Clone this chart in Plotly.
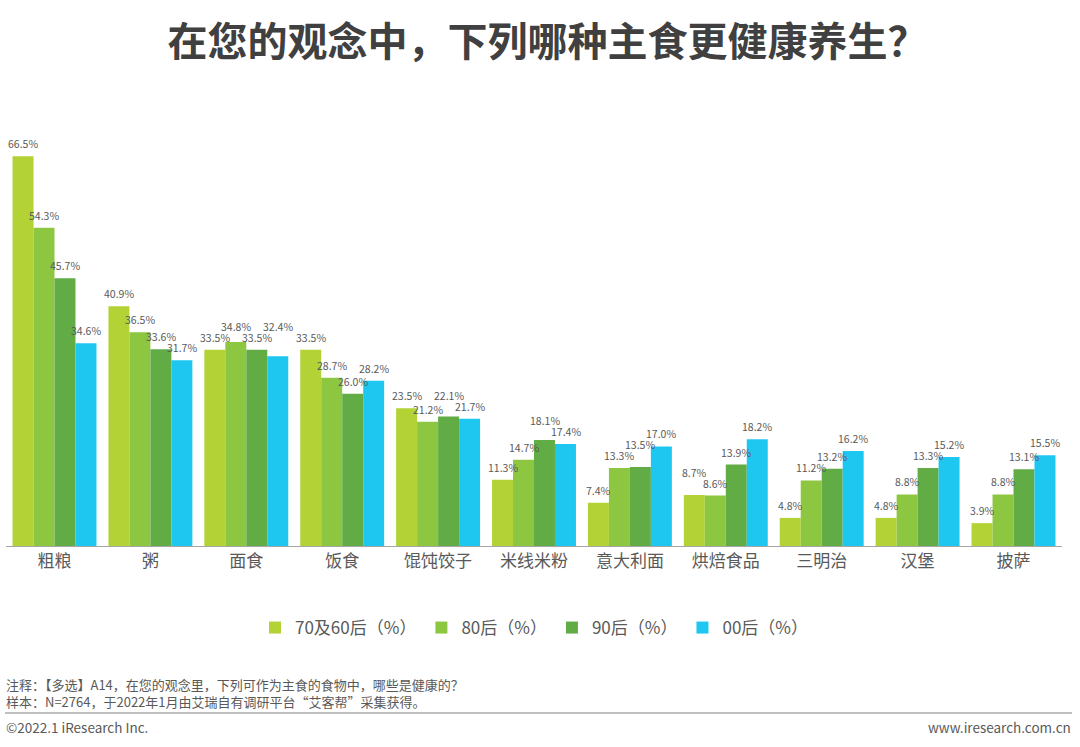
import plotly.graph_objects as go

categories = ["粗粮", "粥", "面食", "饭食", "馄饨饺子", "米线米粉", "意大利面", "烘焙食品", "三明治", "汉堡", "披萨"]
gen_70_60 = [66.5, 40.9, 33.5, 33.5, 23.5, 11.3, 7.4, 8.7, 4.8, 4.8, 3.9]
gen_80 = [54.3, 36.5, 34.8, 28.7, 21.2, 14.7, 13.3, 8.6, 11.2, 8.8, 8.8]
gen_90 = [45.7, 33.6, 33.5, 26.0, 22.1, 18.1, 13.5, 13.9, 13.2, 13.3, 13.1]
gen_00 = [34.6, 31.7, 32.4, 28.2, 21.7, 17.4, 17.0, 18.2, 16.2, 15.2, 15.5]

series = [
    ("70及60后（%）", gen_70_60, "#B2D235"),
    ("80后（%）", gen_80, "#8DC641"),
    ("90后（%）", gen_90, "#62AC46"),
    ("00后（%）", gen_00, "#1EC7F0"),
]

FONT = "Noto Sans CJK SC"
GREY = "#595959"
PLOT_W = 1056
PLOT_H = 416
BASE_Y = 546
Y_MAX = 71
BARGAP = 0.125

PPU = PLOT_H / Y_MAX  # pixels per percent
BAR_PX = PLOT_W / len(categories) * (1 - BARGAP) / len(series)
LABEL_PAD = 3
LABEL_STEP = 11  # min vertical distance between neighbouring labels


def py(ypix):
    # pixel row -> paper y
    return (BASE_Y - ypix) / PLOT_H


def px(xpix):
    # pixel column -> paper x
    return (xpix - 6) / PLOT_W


def label_heights(vals):
    # label bottoms in px above the baseline, staggered so neighbours don't collide
    pos = [v * PPU + LABEL_PAD for v in vals]
    for i in range(1, len(pos)):
        if abs(pos[i] - pos[i - 1]) >= LABEL_STEP:
            continue
        if pos[i] >= pos[i - 1]:
            pos[i] = pos[i - 1] + LABEL_STEP
        else:
            lifted = pos[i] + LABEL_STEP
            if i == 1 or abs(lifted - pos[i - 2]) >= LABEL_STEP:
                pos[i - 1] = lifted
            else:
                pos[i] = pos[i - 1] + LABEL_STEP
    return pos


fig = go.Figure()
for name, values, color in series:
    fig.add_trace(go.Bar(
        x=categories, y=values, name=name,
        marker={"color": color, "line": {"width": 0}},
        cliponaxis=False, hoverinfo="skip",
    ))

for ci, cat in enumerate(categories):
    vals = [s[1][ci] for s in series]
    for si, (v, pos) in enumerate(zip(vals, label_heights(vals))):
        fig.add_annotation(
            x=cat, y=v, xref="x", yref="y", text=f"{v:.1f}%", showarrow=False,
            xshift=(si - (len(series) - 1) / 2) * BAR_PX, yshift=pos - v * PPU,
            yanchor="bottom", xanchor="center",
            font={"size": 10.5, "color": GREY, "family": FONT},
        )

fig.update_layout(
    width=1080, height=747,
    paper_bgcolor="white", plot_bgcolor="white",
    barmode="group", bargap=BARGAP, bargroupgap=0,
    margin={"l": 6, "r": 18, "t": 130, "b": 201},
    font={"family": FONT, "color": GREY},
    title={"text": "<b>在您的观念中，下列哪种主食更健康养生？</b>", "x": 0.507, "xanchor": "center",
           "y": 0.944, "yanchor": "middle", "font": {"size": 40, "color": "#404040", "family": FONT}},
    xaxis={"showline": True, "linecolor": "#A6A6A6", "linewidth": 1, "ticks": "",
           "tickfont": {"size": 17, "color": GREY}, "showgrid": False},
    yaxis={"range": [0, Y_MAX], "visible": False, "showgrid": False},
    legend={"orientation": "h", "x": 0.5, "xanchor": "center", "y": py(628), "yanchor": "middle",
            "font": {"size": 17, "color": GREY}, "itemwidth": 30, "traceorder": "normal"},
    showlegend=True,
)

notes = ("注释：【多选】A14，在您的观念里，下列可作为主食的食物中，哪些是健康的？<br>"
         "样本：N=2764，于2022年1月由艾瑞自有调研平台“艾客帮”采集获得。")
fig.add_annotation(text=notes, xref="paper", yref="paper", x=px(4), xanchor="left", align="left",
                   y=py(693), yanchor="middle", showarrow=False,
                   font={"size": 13, "color": GREY, "family": FONT})

fig.add_shape(type="line", xref="paper", yref="paper", x0=px(5), x1=px(1072),
              y0=py(713), y1=py(713), line={"color": "#BFBFBF", "width": 2})

fig.add_annotation(text="©2022.1 iResearch Inc.", xref="paper", yref="paper", x=px(4), xanchor="left",
                   y=py(727), yanchor="middle", showarrow=False,
                   font={"size": 13.5, "color": GREY, "family": FONT})
fig.add_annotation(text="www.iresearch.com.cn", xref="paper", yref="paper", x=px(1073), xanchor="right",
                   y=py(727), yanchor="middle", showarrow=False,
                   font={"size": 13.5, "color": GREY, "family": FONT})

fig.write_html("out.html", config={"displayModeBar": False},
               post_script="document.body.style.margin='0';")
